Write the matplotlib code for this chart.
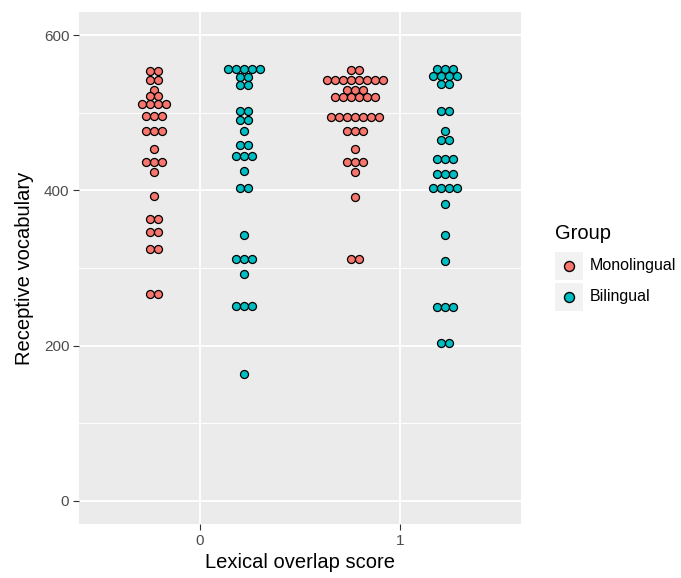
import matplotlib
matplotlib.use("Agg")
import matplotlib.pyplot as plt
from matplotlib.patches import Rectangle
from matplotlib.lines import Line2D

plt.rcParams['font.family'] = ['Liberation Sans', 'DejaVu Sans']

# ---- data: (bin value, number of stacked dots) per group / overlap score ----
categories = ["0", "1"]
groups = ["Monolingual", "Bilingual"]

mono0_vals = [554, 542, 530, 522, 512, 496, 477, 454, 437, 424, 393, 363, 347, 325, 266]
mono0_cnts = [2, 2, 1, 2, 4, 3, 3, 1, 3, 1, 1, 2, 2, 2, 2]

bil0_vals = [557, 546, 536, 502, 491, 476, 458, 445, 425, 403, 342, 312, 292, 251, 163]
bil0_cnts = [5, 2, 2, 2, 2, 1, 2, 3, 1, 2, 1, 3, 1, 3, 1]

mono1_vals = [555, 542, 529, 520, 495, 477, 453, 436, 424, 392, 312]
mono1_cnts = [2, 8, 3, 6, 7, 3, 1, 3, 1, 1, 2]

bil1_vals = [557, 548, 537, 502, 477, 465, 440, 421, 403, 383, 342, 309, 250, 203]
bil1_cnts = [3, 4, 2, 2, 1, 2, 3, 3, 4, 1, 1, 1, 3, 2]

series = {
    ("Monolingual", 0): (mono0_vals, mono0_cnts),
    ("Bilingual", 0): (bil0_vals, bil0_cnts),
    ("Monolingual", 1): (mono1_vals, mono1_cnts),
    ("Bilingual", 1): (bil1_vals, bil1_cnts),
}

colors = {"Monolingual": "#F8766D", "Bilingual": "#00BFC4"}
dodge = {"Monolingual": -0.228, "Bilingual": 0.222}

W, H, DPI = 681, 578, 100
fig = plt.figure(figsize=(W / DPI, H / DPI), dpi=DPI)
fig.patch.set_facecolor("white")
ax = fig.add_axes([79 / W, 1 - 524 / H, (521 - 79) / W, (524 - 12) / H])
ax.set_facecolor("#EBEBEB")
ax.set_xlim(-0.6, 1.6)
ax.set_ylim(-30, 630)

# grid
for y in [100, 300, 500]:
    ax.axhline(y, color="white", lw=0.7, zorder=0)
for y in [0, 200, 400, 600]:
    ax.axhline(y, color="white", lw=1.3, zorder=0)
for x in [0, 1]:
    ax.axvline(x, color="white", lw=1.3, zorder=0)

for s in ax.spines.values():
    s.set_visible(False)

ax.set_xticks([0, 1])
ax.set_xticklabels(categories)
ax.set_yticks([0, 200, 400, 600])
ax.tick_params(axis="both", length=4, width=0.8, color="#333333",
               labelcolor="#4D4D4D", labelsize=11, pad=3)
ax.set_xlabel("Lexical overlap score", fontsize=14.5, color="black", labelpad=4)
ax.set_ylabel("Receptive vocabulary", fontsize=14.5, color="black", labelpad=7)

# dot stacking
dot_px = 8.0
fig.canvas.draw()
px_per_unit = ax.transData.transform((1, 0))[0] - ax.transData.transform((0, 0))[0]
step = dot_px / px_per_unit
dot_s = (dot_px * 72 / DPI) ** 2

for (g, c), (vals, cnts) in series.items():
    xs, ys = [], []
    x0 = c + dodge[g]
    for v, n in zip(vals, cnts):
        for i in range(n):
            xs.append(x0 + (i - (n - 1) / 2) * step)
            ys.append(v)
    ax.scatter(xs, ys, s=dot_s, facecolor=colors[g], edgecolor="black",
               linewidths=0.9, zorder=3)

# legend (manual, ggplot style)
fig.text(555 / W, 1 - 233 / H, "Group", fontsize=14.5, va="center", ha="left")
for k, g in enumerate(groups):
    top = 252 + k * 31
    fig.patches.append(Rectangle((555 / W, 1 - (top + 28) / H), 28 / W, 28 / H,
                                 transform=fig.transFigure, facecolor="#F2F2F2",
                                 edgecolor="none"))
    fig.lines.append(Line2D([569 / W], [1 - (top + 14) / H], transform=fig.transFigure,
                            marker="o", markersize=7.2, markerfacecolor=colors[g],
                            markeredgecolor="black", markeredgewidth=1.0, linestyle="none"))
    fig.text(590 / W, 1 - (top + 14) / H, g, fontsize=11.5, va="center", ha="left")

fig.savefig("out.png", dpi=DPI)
